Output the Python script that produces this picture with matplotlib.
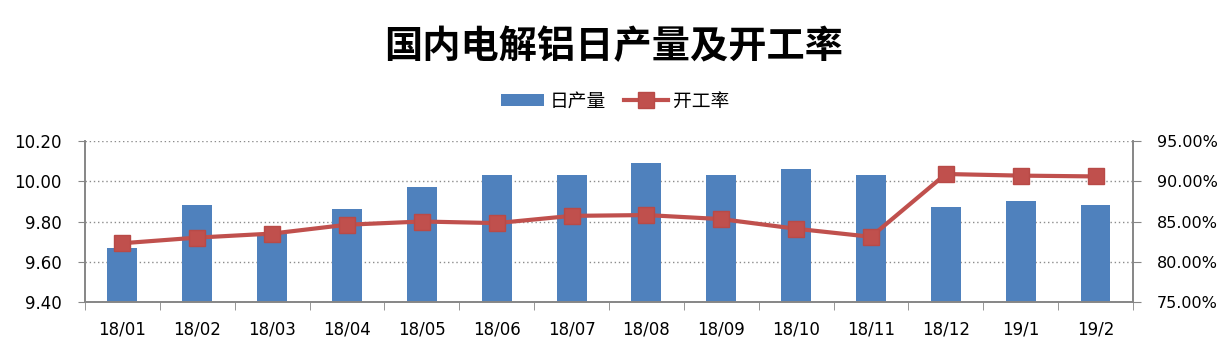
import matplotlib
matplotlib.use("Agg")
import matplotlib.pyplot as plt
import numpy as np
from matplotlib.patches import Patch
from matplotlib.lines import Line2D
from matplotlib.ticker import FuncFormatter

plt.rcParams['font.family'] = ['DejaVu Sans', 'Noto Sans CJK SC']

months = ["18/01", "18/02", "18/03", "18/04", "18/05", "18/06", "18/07",
          "18/08", "18/09", "18/10", "18/11", "18/12", "19/1", "19/2"]
daily_output = [9.67, 9.88, 9.74, 9.86, 9.97, 10.03, 10.03,
                10.09, 10.03, 10.06, 10.03, 9.87, 9.90, 9.88]
util_rate = [82.3, 83.0, 83.5, 84.6, 85.0, 84.8, 85.7,
             85.8, 85.3, 84.1, 83.1, 90.9, 90.7, 90.6]

blue = "#4F81BD"
red = "#C0504D"
axis_grey = "#868686"
cjk = ['Noto Sans CJK SC', 'DejaVu Sans']

fig = plt.figure(figsize=(12.3, 3.56), dpi=100)
ax = fig.add_axes([0.0691, 0.1517, 0.9211 - 0.0691, 0.6039 - 0.1517])
ax2 = ax.twinx()

x = np.arange(len(months))
ax.bar(x, daily_output, width=0.4, color=blue, zorder=2)
ax.set_ylim(9.4, 10.2)
ax.set_yticks([9.4, 9.6, 9.8, 10.0, 10.2])
ax.yaxis.set_major_formatter(FuncFormatter(lambda v, p: "%.2f" % v))
ax.set_xlim(-0.5, len(months) - 0.5)
ax.set_xticks(x)
ax.set_xticklabels(months)
ax.set_xticks(np.arange(-0.5, len(months)), minor=True)
ax.tick_params(axis="x", which="major", length=0, pad=13, labelsize=12)
ax.tick_params(axis="x", which="minor", length=6, color=axis_grey, direction="out")
ax.tick_params(axis="y", length=5, color=axis_grey, pad=12, labelsize=12)
ax.grid(axis="y", linestyle=(0, (1, 2)), color="#8c8c8c", linewidth=1, zorder=0)
ax.set_axisbelow(True)

ax2.plot(x, util_rate, color=red, linewidth=3, marker="s", markersize=11,
         markerfacecolor=red, markeredgecolor="#B84A47", zorder=3)
ax2.set_ylim(75, 95)
ax2.set_yticks([75, 80, 85, 90, 95])
ax2.yaxis.set_major_formatter(FuncFormatter(lambda v, p: "%.2f%%" % v))
ax2.tick_params(axis="y", length=6, color=axis_grey, pad=11, labelsize=11.5)

for a in (ax, ax2):
    a.spines["top"].set_visible(False)
    for s in ("left", "right", "bottom"):
        a.spines[s].set_color(axis_grey)
        a.spines[s].set_linewidth(1.2)

fig.text(0.4985, 0.868, "国内电解铝日产量及开工率", ha="center", va="center",
         fontsize=27.5, fontweight="bold", family=cjk)

handles = [Patch(facecolor=blue, edgecolor="none"),
           Line2D([0], [0], color=red, linewidth=3, marker="s", markersize=11,
                  markerfacecolor=red, markeredgecolor="#B84A47")]
fig.legend(handles, ["日产量", "开工率"], loc="center", bbox_to_anchor=(0.5, 0.716),
           ncol=2, frameon=False, handlelength=2.3, handleheight=0.65,
           handletextpad=0.3, columnspacing=1.0, prop={"family": cjk, "size": 13.5})

fig.savefig("out.png", dpi=100)
